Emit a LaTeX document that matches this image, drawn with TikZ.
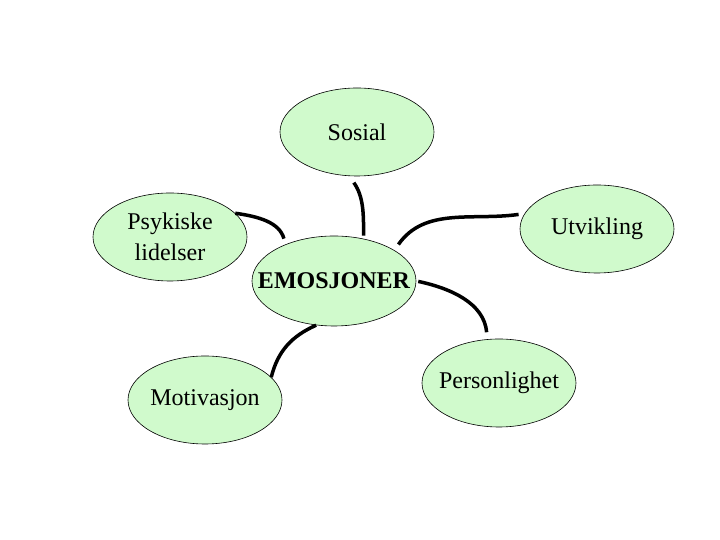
\documentclass[tikz,border=0pt]{standalone}
\usepackage{fontspec}
\setmainfont{Liberation Serif}
\usetikzlibrary{shapes.geometric}
\definecolor{bubblegreen}{RGB}{208,250,204}

\begin{document}
\begin{tikzpicture}[x=1pt,y=1pt,
		bubble/.style={ellipse, draw, fill=bubblegreen, line width=0.6pt, minimum width=154pt, minimum height=88pt, inner sep=0pt,
			label={[align=center, font=\fontsize{24}{31}\selectfont]center:#1}},
		link/.style={line width=3.5pt}]
		\useasboundingbox (0,0) rectangle (720,540);
		\def\myBubbles{sos/357/408/Sosial, psy/170/303/{Psykiske\\lidelser}, utv/597/311/Utvikling, mot/205/140/Motivasjon, per/499/157/Personlighet}
		\foreach \name/\x/\y/\txt in \myBubbles
		\node[bubble=\txt] (\name) at (\x,\y) {};
		\node[bubble={\bfseries EMOSJONER}, minimum width=164pt, minimum height=90pt] (emo) at (334,259) {};
		% links to the centre
		\draw[link, shorten <=8pt, shorten >=3pt] (sos.-100) to[out=-55, in=90] (emo.55);
		\draw[link, shorten >=6pt] (psy.20) to[out=-8, in=105] (emo.143);
		\draw[link, shorten <=6pt, shorten >=7pt] (utv.168) to[out=188, in=55] (emo.27);
		\draw[link, shorten <=2pt, shorten >=7pt] (emo.0) to[out=-12, in=95] (per.105);
		\draw[link] (emo.-112) to[out=204, in=76] (mot.19.5);
	\end{tikzpicture}
\end{document}
